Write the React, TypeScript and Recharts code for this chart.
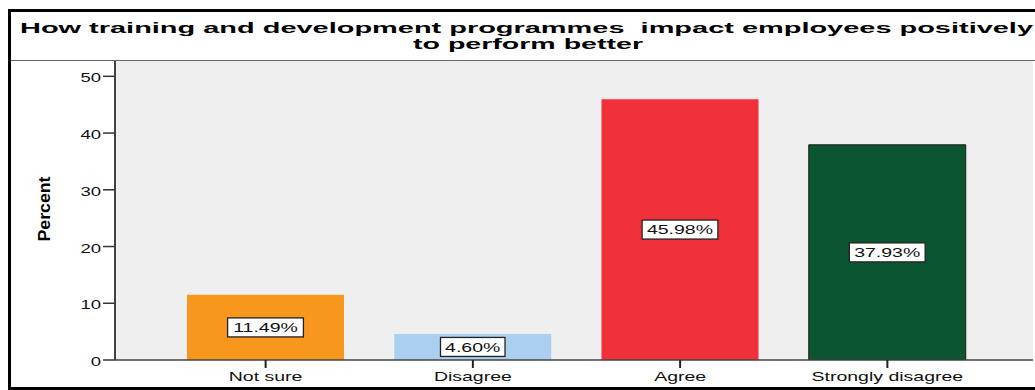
import { BarChart, Bar, XAxis, YAxis, CartesianGrid, Cell, LabelList } from "recharts";

const categories = ["Not sure", "Disagree", "Agree", "Strongly disagree"];
const percents = [11.49, 4.6, 45.98, 37.93];
const yTicks = [0, 10, 20, 30, 40, 50];

const barColors = ["#f8971e", "#abcfee", "#f0313a", "#0b5530"];
const barStrokes = ["none", "none", "none", "#1c1c1c"];

const data = categories.map((name, i) => ({ name, percent: percents[i] }));

const FONT = "'Liberation Sans', Arial, sans-serif";
const STRETCH = 1.5;

const XTick = ({ x, y, payload }: any) => (
  <g transform={`translate(${x},${y + 11}) scale(${STRETCH},1)`}>
    <text x={0} y={0} textAnchor="middle" fontFamily={FONT} fontSize={13} fill="#111">
      {payload.value}
    </text>
  </g>
);

const YTick = ({ x, y, payload }: any) => (
  <g transform={`translate(${x},${y + 6}) scale(${STRETCH * 0.95},1)`}>
    <text x={0} y={0} textAnchor="end" fontFamily={FONT} fontSize={13} fill="#111">
      {payload.value}
    </text>
  </g>
);

const ValueLabel = (props: any) => {
  const { x, y, width, height, value } = props;
  const txt = `${Number(value).toFixed(2)}%`;
  const cx = x + width / 2;
  const cy = y + height / 2;
  const w = txt.length * 11.3 + 8;
  return (
    <g>
      <rect x={cx - w / 2} y={cy - 9.5} width={w} height={19} fill="#fff" stroke="#222" strokeWidth={1.3} />
      <g transform={`translate(${cx},${cy + 4.7}) scale(${STRETCH},1)`}>
        <text x={0} y={0} textAnchor="middle" fontFamily={FONT} fontSize={13} fill="#111">
          {txt}
        </text>
      </g>
    </g>
  );
};

export default function App() {
  return (
    <div style={{ position: "relative", width: 1035, height: 390, background: "#fff", overflow: "hidden" }}>
      <style>{"body{margin:0;overflow:hidden}"}</style>
      <BarChart
        width={1035}
        height={390}
        data={data}
        margin={{ top: 61, right: 2, bottom: 0, left: 55 }}
      >
        <CartesianGrid fill="#efefef" horizontal={false} vertical={false} />
        <XAxis
          dataKey="name"
          padding={{ left: 47, right: 42 }}
          axisLine={{ stroke: "#444", strokeWidth: 1.5 }}
          tickLine={{ stroke: "#222", strokeWidth: 2 }}
          tickSize={8}
          tick={<XTick />}
          interval={0}
          height={30}
        />
        <YAxis
          domain={[0, 52.7]}
          ticks={yTicks}
          width={60}
          axisLine={{ stroke: "#444", strokeWidth: 2 }}
          tickLine={{ stroke: "#333", strokeWidth: 1.5 }}
          tickSize={12}
          tick={<YTick />}
          allowDataOverflow
        />
        <Bar dataKey="percent" barSize={157} isAnimationActive={false}>
          {data.map((d, i) => (
            <Cell key={d.name} fill={barColors[i]} stroke={barStrokes[i]} strokeWidth={1} />
          ))}
          <LabelList dataKey="percent" content={<ValueLabel />} />
        </Bar>
      </BarChart>
      <svg
        width={1035}
        height={390}
        style={{ position: "absolute", left: 0, top: 0, pointerEvents: "none" }}
      >
        <text
          x={20}
          y={32.5}
          fontFamily={FONT}
          fontWeight="bold"
          fontSize={15}
          fill="#000"
          textLength={1013}
          lengthAdjust="spacingAndGlyphs"
          style={{ whiteSpace: "pre" }}
        >
          {"How training and development programmes  impact employees positively"}
        </text>
        <text
          x={413}
          y={48.5}
          fontFamily={FONT}
          fontWeight="bold"
          fontSize={15}
          fill="#000"
          textLength={230}
          lengthAdjust="spacingAndGlyphs"
        >
          to perform better
        </text>
        <line x1={10} y1={60.5} x2={1035} y2={60.5} stroke="#666" strokeWidth={1.2} />
        <text
          transform="translate(50,209) rotate(-90)"
          textAnchor="middle"
          fontFamily="'Liberation Sans Narrow', 'Liberation Sans', Arial, sans-serif"
          fontWeight="bold"
          fontSize={17}
          fill="#000"
          textLength={65}
          lengthAdjust="spacingAndGlyphs"
        >
          Percent
        </text>
      </svg>
      <div
        style={{
          position: "absolute",
          left: 8,
          top: 9,
          width: 1040,
          height: 381,
          boxSizing: "border-box",
          borderLeft: "3px solid #000",
          borderTop: "3px solid #000",
          borderBottom: "3px solid #000",
          pointerEvents: "none",
        }}
      />
    </div>
  );
}
